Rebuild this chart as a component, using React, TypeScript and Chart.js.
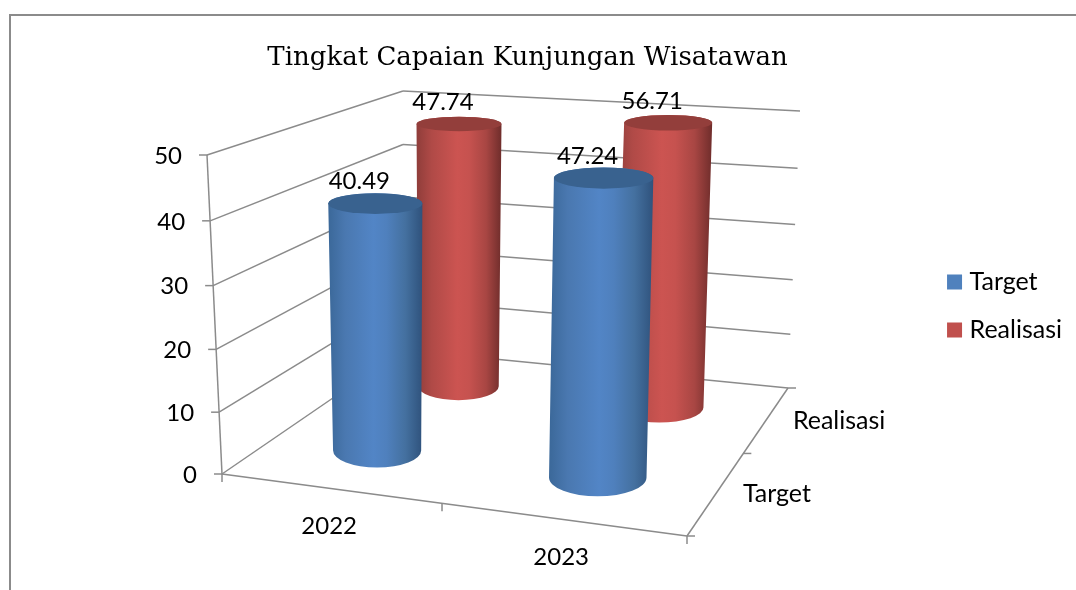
import React, { useEffect, useRef } from "react";
import { Chart, registerables } from "chart.js";

Chart.register(...registerables);

const categories = ["2022", "2023"];
const seriesNames = ["Target", "Realisasi"];
const targetValues = [40.49, 47.24];
const realisasiValues = [47.74, 56.71];
const axisMin = 0;
const axisMax = 50;
const axisStep = 10;
const titleText = "Tingkat Capaian Kunjungan Wisatawan";

type Pt = [number, number];
const FLOOR: Pt[] = [[222, 474], [687, 536], [788, 388], [403, 350]];
const CEIL: Pt[] = [[207, 155], [684, 195], [800, 111], [403, 91]];
const BAR_CEIL: Pt[] = [[221, 154], [705.5, 194], [808, 113], [405.5, 93]];
const LINE = "#8b8b8b";
const TEXT_FONT = "Lato";
const GRAD = [
  ["#3b6899", "#4a78b0", "#5285c6", "#4f80bd", "#44709f", "#2f527c"],
  ["#8f3d3a", "#b04a47", "#cc5451", "#c6524f", "#a84643", "#6f2d2b"],
];
const CAP = ["#39628f", "#933e3b"];

function homography(q: Pt[]) {
  const [[x0, y0], [x1, y1], [x2, y2], [x3, y3]] = q;
  const dx1 = x1 - x2, dx2 = x3 - x2, sx = x0 - x1 + x2 - x3;
  const dy1 = y1 - y2, dy2 = y3 - y2, sy = y0 - y1 + y2 - y3;
  const den = dx1 * dy2 - dx2 * dy1;
  const g = (sx * dy2 - dx2 * sy) / den;
  const h = (dx1 * sy - sx * dy1) / den;
  const a = x1 - x0 + g * x1, b = x3 - x0 + h * x3;
  const d = y1 - y0 + g * y1, e = y3 - y0 + h * y3;
  return (u: number, v: number): Pt => {
    const w = g * u + h * v + 1;
    return [(a * u + b * v + x0) / w, (d * u + e * v + y0) / w];
  };
}
const hFloor = homography(FLOOR);
const hCeil = homography(CEIL);
const hBarCeil = homography(BAR_CEIL);
function mix(top: (u: number, v: number) => Pt, u: number, v: number, t: number): Pt {
  const k = 1.04;
  const s = t / (k - (k - 1) * t);
  const a = hFloor(u, v), b = top(u, v);
  return [a[0] + (b[0] - a[0]) * s, a[1] + (b[1] - a[1]) * s];
}
const project = (u: number, v: number, t: number) => mix(hCeil, u, v, t);
const projectBar = (u: number, v: number, t: number) => mix(hBarCeil, u, v, t);
const R_U = 0.1;
const R_V = 0.12;

function line(ctx: CanvasRenderingContext2D, a: Pt, b: Pt) {
  ctx.beginPath();
  ctx.moveTo(a[0], a[1]);
  ctx.lineTo(b[0], b[1]);
  ctx.stroke();
}
function heightOf(chart: any, value: number) {
  const y = chart.scales.y;
  return Math.min(1, Math.max(0, (y.bottom - y.getPixelForValue(value)) / (y.bottom - y.top)));
}
function depthOf(i: number) {
  return (i + 0.5) / seriesNames.length;
}
function acrossOf(chart: any, i: number) {
  const x = chart.scales.x;
  return (x.getPixelForValue(i) - x.left) / (x.right - x.left);
}
function disc(u: number, v: number, t: number, widen: number) {
  const c = projectBar(u, v, t);
  const l = projectBar(u - R_U, v, t), r = projectBar(u + R_U, v, t);
  const f = projectBar(u, v - R_V, t), b = projectBar(u, v + R_V, t);
  return { x: c[0], y: c[1], rx: (widen * Math.abs(r[0] - l[0])) / 2, ry: Math.abs(f[1] - b[1]) / 2 };
}

const frame3d = {
  id: "frame3d",
  beforeDatasetsDraw(chart: any) {
    const ctx = chart.ctx as CanvasRenderingContext2D;
    ctx.save();
    ctx.strokeStyle = LINE;
    ctx.lineWidth = 2;
    ctx.beginPath();
    ctx.moveTo(10, 590);
    ctx.lineTo(10, 15);
    ctx.lineTo(1076, 15);
    ctx.stroke();
    ctx.lineWidth = 1.5;
    const yScale = chart.scales.y;
    for (const tick of yScale.ticks) {
      const t = heightOf(chart, tick.value);
      line(ctx, project(0, 0, t), project(0, 1, t));
      line(ctx, project(0, 1, t), project(1, 1, t));
      const p = project(0, 0, t);
      line(ctx, [p[0] - 8, p[1]], p);
    }
    line(ctx, project(0, 0, 0), project(0, 0, 1));
    line(ctx, project(0, 0, 0), project(1, 0, 0));
    line(ctx, project(1, 0, 0), project(1, 1, 0));
    for (let i = 0; i <= categories.length; i++) {
      const p = project(i / categories.length, 0, 0);
      line(ctx, p, [p[0], p[1] + 8]);
    }
    for (let i = 0; i <= seriesNames.length; i++) {
      const p = project(1, i / seriesNames.length, 0);
      line(ctx, p, [p[0] + 8, p[1]]);
    }
    ctx.restore();
  },
  beforeDatasetDraw(chart: any, args: any) {
    const ctx = chart.ctx as CanvasRenderingContext2D;
    const idx = args.index;
    const data = chart.data.datasets[idx].data as number[];
    const v = depthOf(idx);
    data.forEach((value, i) => {
      const u = acrossOf(chart, i);
      const bot = disc(u, v, 0, 1.05);
      const top = disc(u, v, heightOf(chart, value), 0.967 + 0.276 * (0.75 - u) + 0.046 * (0.75 - v));
      const left = Math.min(bot.x - bot.rx, top.x - top.rx);
      const right = Math.max(bot.x + bot.rx, top.x + top.rx);
      const g = ctx.createLinearGradient(left, 0, right, 0);
      const stops = [0, 0.18, 0.48, 0.62, 0.82, 1];
      stops.forEach((s, k) => g.addColorStop(s, GRAD[idx][k]));
      ctx.save();
      ctx.fillStyle = g;
      ctx.beginPath();
      ctx.moveTo(top.x - top.rx, top.y);
      ctx.lineTo(bot.x - bot.rx, bot.y);
      ctx.ellipse(bot.x, bot.y, bot.rx, bot.ry, 0, Math.PI, 0, true);
      ctx.lineTo(top.x + top.rx, top.y);
      ctx.ellipse(top.x, top.y, top.rx, top.ry, 0, 0, Math.PI, true);
      ctx.closePath();
      ctx.fill();
      ctx.fillStyle = CAP[idx];
      ctx.beginPath();
      ctx.ellipse(top.x, top.y, top.rx, top.ry, 0, 0, Math.PI * 2);
      ctx.fill();
      ctx.restore();
    });
    return false;
  },
  afterDatasetsDraw(chart: any) {
    const ctx = chart.ctx as CanvasRenderingContext2D;
    ctx.save();
    ctx.fillStyle = "#000";
    ctx.font = `24px ${TEXT_FONT}`;
    ctx.textBaseline = "middle";
    ctx.textAlign = "center";
    chart.data.datasets.forEach((ds: any, idx: number) => {
      (ds.data as number[]).forEach((value, i) => {
        const p = projectBar(acrossOf(chart, i), depthOf(idx), heightOf(chart, value));
        ctx.fillText(value.toFixed(2), p[0] - 16, p[1] - 22);
      });
    });
    ctx.textAlign = "right";
    for (const tick of chart.scales.y.ticks) {
      const p = project(0, 0, heightOf(chart, tick.value));
      ctx.fillText(String(tick.value), p[0] - 25, p[1] + 1);
    }
    ctx.textAlign = "center";
    categories.forEach((c, i) => {
      const p = project(acrossOf(chart, i), 0, 0);
      ctx.fillText(c, p[0], p[1] + 38);
    });
    ctx.font = `25px ${TEXT_FONT}`;
    ctx.textAlign = "left";
    seriesNames.forEach((s, i) => {
      const p = project(1, depthOf(i), 0);
      ctx.fillText(s, p[0] + 26, p[1] + 2);
    });
    ctx.restore();
  },
};

export default function App() {
  const ref = useRef<HTMLCanvasElement>(null);
  useEffect(() => {
    const chart = new Chart(ref.current!, {
      type: "bar",
      data: {
        labels: categories,
        datasets: [
          { label: seriesNames[0], data: targetValues, backgroundColor: "#4F81BD" },
          { label: seriesNames[1], data: realisasiValues, backgroundColor: "#C0504D" },
        ],
      },
      plugins: [frame3d],
      options: {
        animation: false,
        responsive: false,
        layout: { padding: { left: 126, top: 43, right: 4, bottom: 62 } },
        scales: {
          x: { display: false },
          y: { display: false, min: axisMin, max: axisMax, ticks: { stepSize: axisStep } },
        },
        plugins: {
          tooltip: { enabled: false },
          title: {
            display: true,
            text: titleText,
            fullSize: false,
            color: "#000",
            font: { family: "DejaVu Serif", size: 26, weight: "normal" },
            padding: { top: 0, bottom: 10 },
          },
          legend: {
            position: "right",
            fullSize: false,
            labels: {
              color: "#000",
              font: { family: TEXT_FONT, size: 25 },
              boxWidth: 5,
              boxHeight: 5,
              padding: 23,
              generateLabels(c: any) {
                return c.data.datasets.map((ds: any, i: number) => ({
                  text: ds.label,
                  fillStyle: ds.backgroundColor,
                  strokeStyle: ds.backgroundColor,
                  lineWidth: 10,
                  datasetIndex: i,
                  hidden: false,
                }));
              },
            },
          },
        },
      },
    } as any);
    return () => chart.destroy();
  }, []);
  return (
    <div style={{ position: "fixed", left: 0, top: 0, width: 1076, height: 590, background: "#fff" }}>
      <canvas ref={ref} width={1076} height={590} style={{ display: "block" }} />
    </div>
  );
}
